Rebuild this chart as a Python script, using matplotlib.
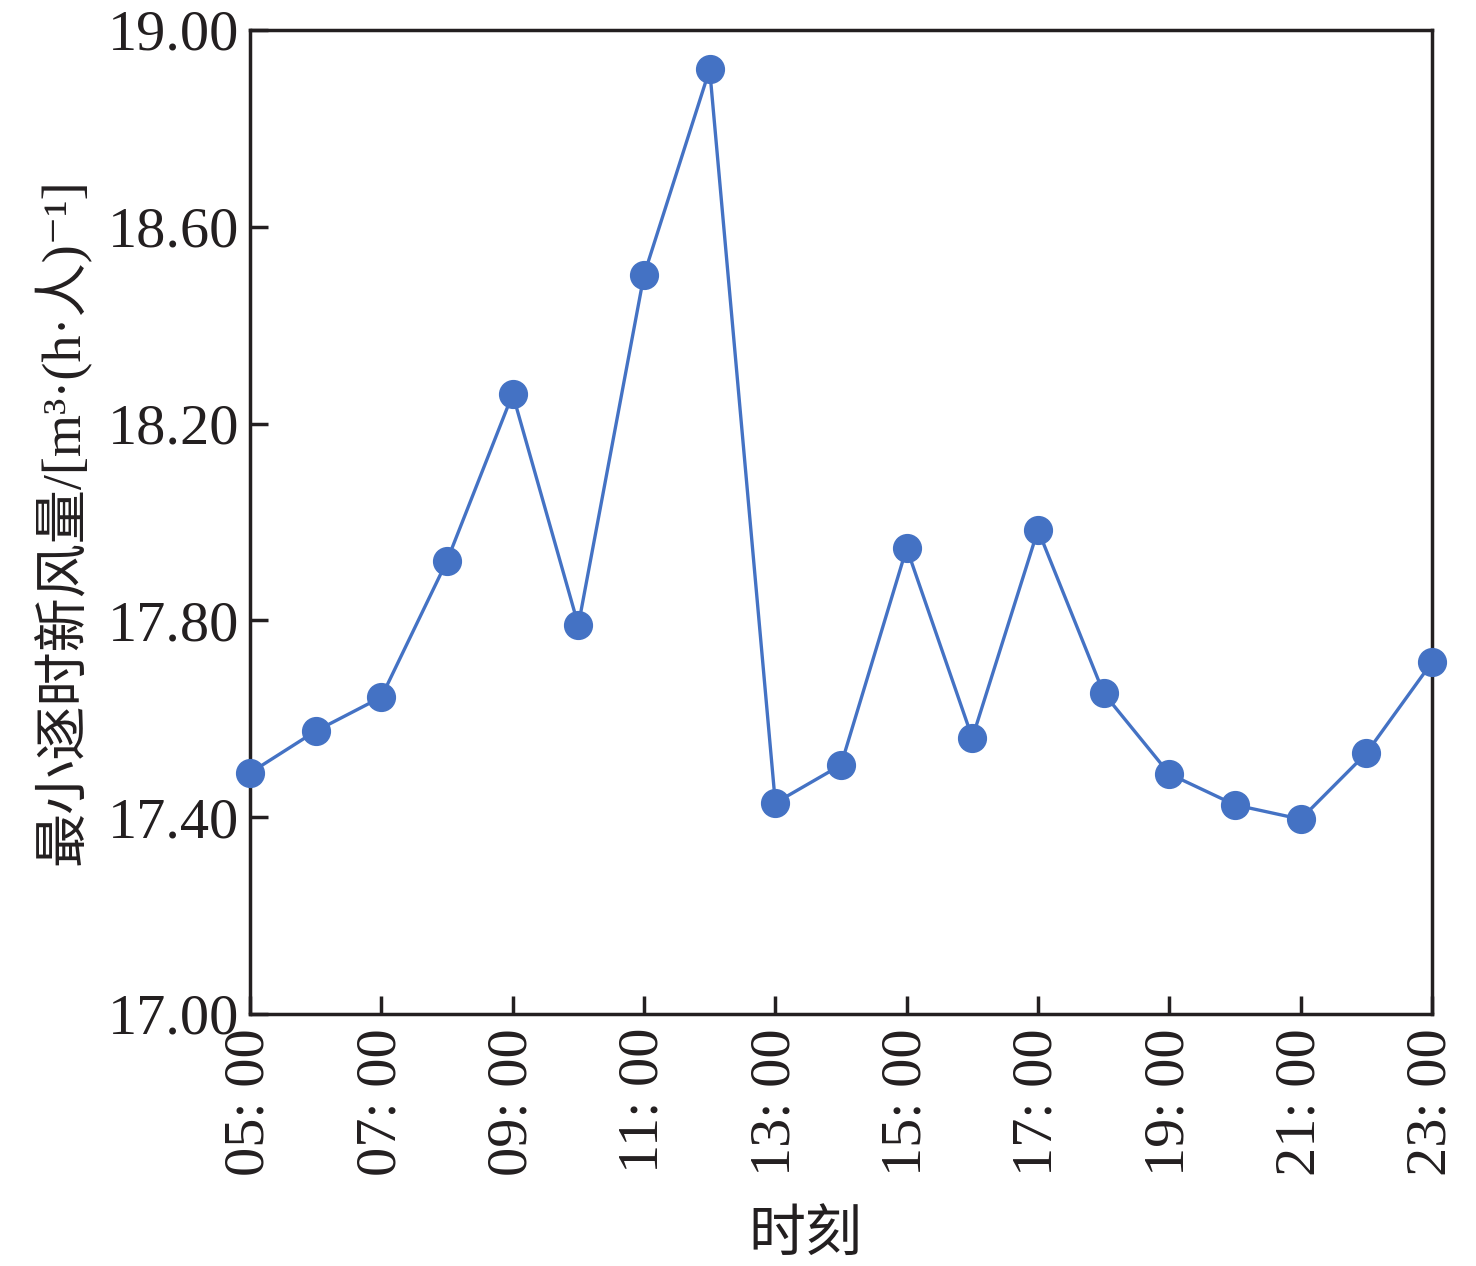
import matplotlib
matplotlib.use("Agg")
import matplotlib.pyplot as plt

hours = list(range(5, 24))
values = [17.49, 17.575, 17.644, 17.921, 18.26, 17.79, 18.502, 18.92, 17.429,
          17.506, 17.947, 17.561, 17.984, 17.652, 17.488, 17.425, 17.396, 17.53, 17.715]
xtick_hours = list(range(5, 24, 2))
xtick_labels = [f"{h:02d}: 00" for h in xtick_hours]
yticks = [17.00, 17.40, 17.80, 18.20, 18.60, 19.00]

fam = ['Liberation Serif', 'DejaVu Serif', 'Noto Sans CJK SC']
plt.rcParams['font.family'] = fam

fig = plt.figure(figsize=(14.76, 12.66), dpi=100)
ax = fig.add_axes([250/1476, 1 - 1014/1266, (1432-250)/1476, (1014-30)/1266])

ax.plot(hours, values, color='#4472C4', linewidth=2.4, marker='o',
        markersize=20, markerfacecolor='#4472C4', markeredgecolor='#4472C4', clip_on=False, zorder=3)

ax.set_xlim(5, 23)
ax.set_ylim(17.0, 19.0)
ax.set_xticks(xtick_hours)
ax.set_xticklabels(xtick_labels, rotation=90, fontsize=42)
ax.set_yticks(yticks)
ax.set_yticklabels([f"{v:.2f}" for v in yticks], fontsize=42)
ax.tick_params(direction='in', length=13, width=2.5, pad=10, colors='#231f20')
ax.tick_params(axis='y', pad=8)
for s in ax.spines.values():
    s.set_linewidth(2.5)
    s.set_color('#231f20')

ax.set_xlabel('时刻', fontsize=41, family=['Noto Sans CJK SC'], color='#231f20')
ax.xaxis.set_label_coords(0.47, -0.195)
ax.set_ylabel('最小逐时新风量/[m³·(h·人)⁻¹]', fontsize=39, family=fam, color='#231f20')
ax.yaxis.set_label_coords(-0.135, 0.5)
for t in ax.get_xticklabels() + ax.get_yticklabels():
    t.set_color('#231f20')

fig.savefig('out.png', dpi=100)
